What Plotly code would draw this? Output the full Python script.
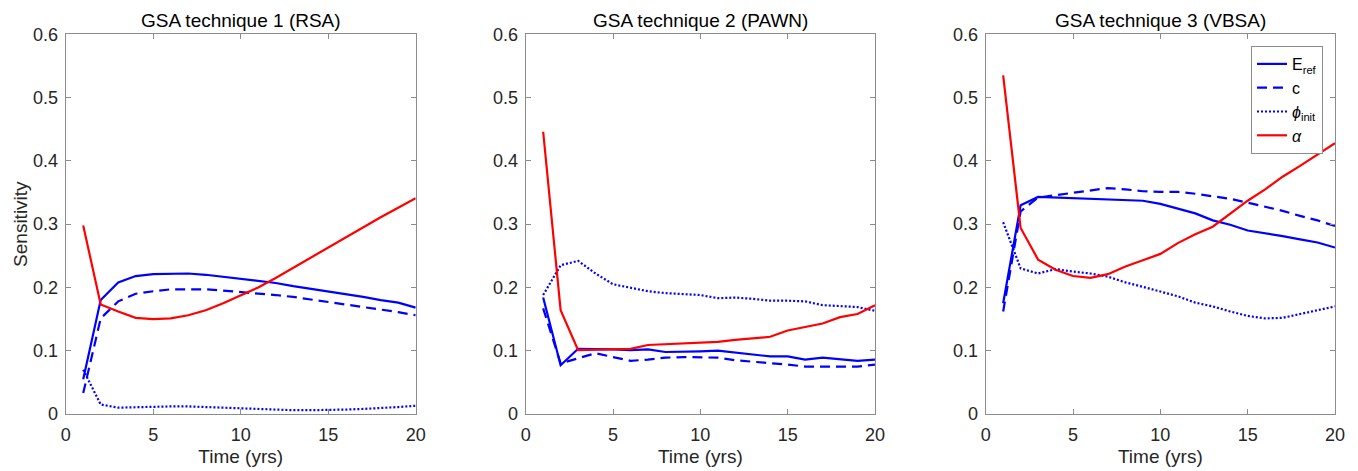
import plotly.graph_objects as go

years = list(range(1, 21))

# GSA technique 1 (RSA)
rsa_eref = [0.055, 0.180, 0.208, 0.218, 0.221, 0.222, 0.222, 0.220, 0.217, 0.214,
            0.211, 0.207, 0.202, 0.198, 0.193, 0.189, 0.185, 0.180, 0.176, 0.168]
rsa_c = [0.033, 0.151, 0.178, 0.190, 0.194, 0.197, 0.197, 0.197, 0.195, 0.193,
         0.191, 0.188, 0.185, 0.181, 0.178, 0.174, 0.170, 0.165, 0.161, 0.156]
rsa_phi = [0.070, 0.015, 0.010, 0.011, 0.012, 0.012, 0.012, 0.011, 0.010, 0.008,
           0.007, 0.006, 0.006, 0.006, 0.006, 0.007, 0.008, 0.009, 0.011, 0.013]
rsa_alpha = [0.298, 0.173, 0.162, 0.152, 0.150, 0.151, 0.156, 0.164, 0.175, 0.187,
             0.200, 0.215, 0.231, 0.248, 0.264, 0.280, 0.296, 0.311, 0.326, 0.341]

# GSA technique 2 (PAWN)
pawn_eref = [0.184, 0.077, 0.103, 0.103, 0.102, 0.101, 0.102, 0.098, 0.098, 0.099,
             0.100, 0.097, 0.093, 0.091, 0.091, 0.086, 0.089, 0.087, 0.084, 0.086]
pawn_c = [0.167, 0.080, 0.088, 0.096, 0.090, 0.084, 0.086, 0.089, 0.090, 0.090,
          0.089, 0.085, 0.083, 0.080, 0.078, 0.075, 0.075, 0.075, 0.075, 0.078]
pawn_phi = [0.188, 0.235, 0.242, 0.222, 0.205, 0.200, 0.194, 0.191, 0.190, 0.188,
            0.183, 0.184, 0.182, 0.179, 0.179, 0.178, 0.172, 0.171, 0.169, 0.163]
pawn_alpha = [0.446, 0.164, 0.101, 0.102, 0.102, 0.103, 0.109, 0.110, 0.111, 0.113,
              0.114, 0.117, 0.119, 0.122, 0.132, 0.137, 0.143, 0.153, 0.158, 0.172]

# GSA technique 3 (VBSA)
vbsa_eref = [0.175, 0.330, 0.343, 0.342, 0.341, 0.340, 0.338, 0.337, 0.337, 0.332,
             0.325, 0.317, 0.306, 0.299, 0.290, 0.286, 0.281, 0.276, 0.271, 0.263]
vbsa_c = [0.162, 0.320, 0.342, 0.346, 0.350, 0.353, 0.357, 0.355, 0.352, 0.351,
          0.351, 0.348, 0.344, 0.340, 0.334, 0.328, 0.321, 0.313, 0.306, 0.297]
vbsa_phi = [0.303, 0.230, 0.222, 0.229, 0.225, 0.222, 0.217, 0.208, 0.201, 0.194,
            0.186, 0.176, 0.170, 0.162, 0.155, 0.151, 0.152, 0.158, 0.164, 0.170]
vbsa_alpha = [0.535, 0.294, 0.244, 0.228, 0.218, 0.215, 0.221, 0.233, 0.243, 0.253,
              0.270, 0.284, 0.296, 0.317, 0.337, 0.355, 0.375, 0.392, 0.410, 0.428]

titles = ["GSA technique 1 (RSA)", "GSA technique 2 (PAWN)", "GSA technique 3 (VBSA)"]
panels = [
    (rsa_eref, rsa_c, rsa_phi, rsa_alpha),
    (pawn_eref, pawn_c, pawn_phi, pawn_alpha),
    (vbsa_eref, vbsa_c, vbsa_phi, vbsa_alpha),
]
names = ["E<sub>ref</sub>", "c", "<i>ϕ</i><sub>init</sub>", "<i>α</i>"]
colors = ["#0000FF", "#0000FF", "#0000FF", "#FF0000"]
dashes = ["solid", "10px,6px", "2px,2px", "solid"]

W, H = 1358, 471
x_px = [(65.7, 415.7), (525.7, 875.0), (985.7, 1335.0)]
y_dom = [1 - 414 / H, 1 - 34.3 / H]

FONT = "Liberation Sans, Arial, sans-serif"
TXT = "#262626"
AX = "#8c8c8c"

fig = go.Figure()
for i, series in enumerate(panels):
    k = "" if i == 0 else str(i + 1)
    for j, vals in enumerate(series):
        fig.add_trace(go.Scatter(
            x=years, y=vals, mode="lines", name=names[j],
            line=dict(color=colors[j], width=2.2, dash=dashes[j]),
            showlegend=(i == 2),
            xaxis="x" + k, yaxis="y" + k,
        ))
    dom = [x_px[i][0] / W, x_px[i][1] / W]
    axcommon = dict(showline=True, linecolor=AX, linewidth=1, mirror="ticks",
                    ticks="inside", ticklen=5, tickcolor=AX, showgrid=False,
                    zeroline=False, automargin=False,
                    tickfont=dict(family=FONT, size=18, color=TXT))
    fig.layout["xaxis" + k] = dict(domain=dom, range=[0, 20], tickvals=[0, 5, 10, 15, 20],
                                   anchor="y" + k, ticklabelstandoff=4,
                                   title=dict(text="Time (yrs)", standoff=6,
                                              font=dict(family=FONT, size=19, color=TXT)),
                                   **axcommon)
    ydict = dict(domain=y_dom, range=[0, 0.6], tickvals=[0, 0.1, 0.2, 0.3, 0.4, 0.5, 0.6],
                 ticktext=["0", "0.1", "0.2", "0.3", "0.4", "0.5", "0.6"],
                 anchor="x" + k, ticklabelstandoff=3, **axcommon)
    if i == 0:
        ydict["title"] = dict(text="Sensitivity", standoff=0,
                              font=dict(family=FONT, size=19, color=TXT))
    fig.layout["yaxis" + k] = ydict
    fig.add_annotation(text=titles[i], xref="paper", yref="paper",
                       x=(dom[0] + dom[1]) / 2, y=1 - 21 / H, xanchor="center",
                       yanchor="middle", showarrow=False,
                       font=dict(family=FONT, size=19, color="#000000"))

fig.update_layout(
    width=W, height=H,
    margin=dict(l=0, r=0, t=0, b=0),
    paper_bgcolor="white", plot_bgcolor="white",
    legend=dict(x=1323 / W, xanchor="right", y=1 - 46 / H, yanchor="top",
                bgcolor="white", bordercolor=AX, borderwidth=1,
                font=dict(family=FONT, size=16, color="#000000"),
                itemwidth=30, tracegroupgap=0),
)

fig.write_html("out.html")
